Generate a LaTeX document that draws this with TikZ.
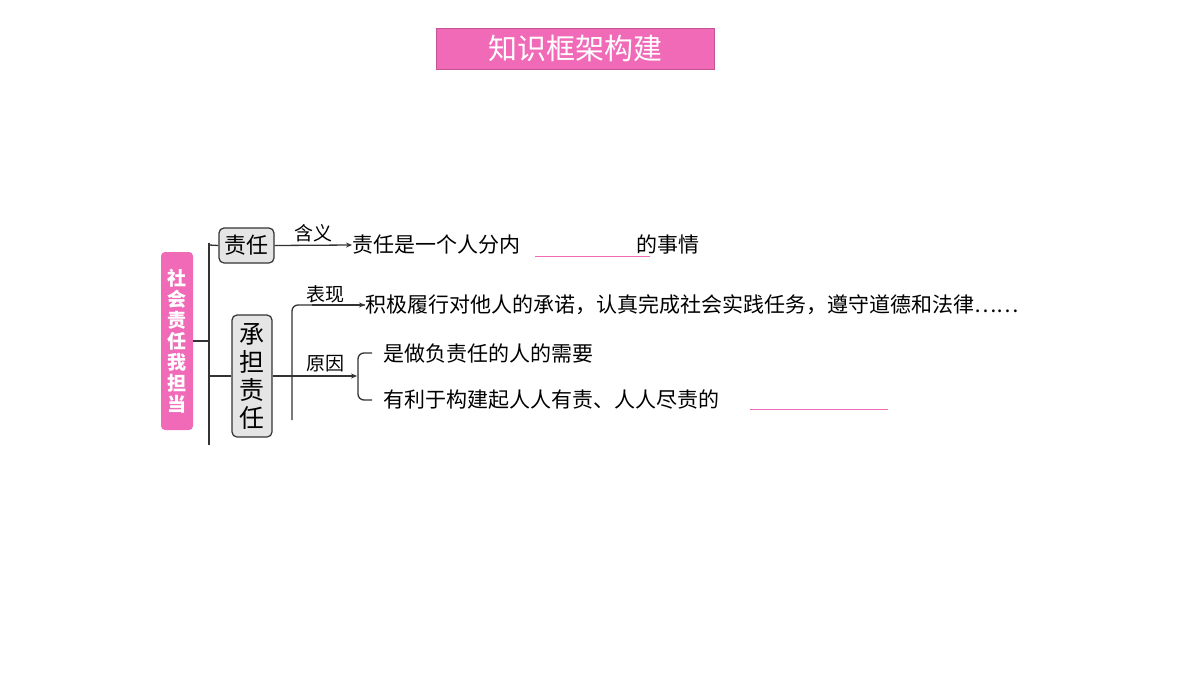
\documentclass[tikz,border=0pt]{standalone}
\usepackage{fontspec}
\setmainfont{Noto Sans CJK SC}
\usetikzlibrary{arrows.meta}
\definecolor{pk}{HTML}{F06AB8}
\begin{document}
\begin{tikzpicture}[x=1pt,y=-1pt,
  ln/.style={line width=1.3pt,draw=black!80},
  ar/.style={ln,-{Stealth[length=6pt,width=5pt]}},
  gb/.style={draw=black!80,line width=1.2pt,fill=black!10,rounded corners=5pt,inner sep=0pt},
  tx/.style={anchor=west,inner sep=0pt,font=\fontsize{21}{24}\selectfont},
  lb/.style={inner sep=0pt,font=\fontsize{19}{22}\selectfont}]
\useasboundingbox (0,0) rectangle (1200,675);
\node[fill=pk,draw=pk!80!black,minimum width=278pt,minimum height=41pt,text=white,font=\fontsize{29}{32}\selectfont] (title) at (575,48.5) {知识框架构建};
\node[fill=pk,rounded corners=4pt,minimum width=32pt,minimum height=178pt,text=white,font=\bfseries\fontsize{19}{21}\selectfont,align=center,inner sep=0pt] (root) at (177,341) {社\\会\\责\\任\\我\\担\\当};
\coordinate (vt) at (209,243); \coordinate (vb) at (209,445);
\draw[ln] (vt) -- (vb);
\draw[ln] (root.east) -- (209,341);
\node[gb,minimum width=55pt,minimum height=35pt,font=\fontsize{22}{24}\selectfont] (zr) at (246.5,245.5) {责任};
\node[gb,minimum width=40pt,minimum height=122pt,align=center,font=\fontsize{25}{28}\selectfont] (cd) at (252,376) {承\\担\\责\\任};
\draw[ln] (209,245) -- (zr.west);
\draw[ln] (209,376) -- (cd.west);
\node[tx] (t1) at (352,245) {责任是一个人分内\hspace{116pt}的事情};
\draw[pk,line width=1pt] (535,256) -- (650,256);
\draw[ar] (zr.east) -- (t1.west) node[lb,midway,above=3pt] (hy) {含义};
\node[tx] (t2) at (365,305) {积极履行对他人的承诺，认真完成社会实践任务，遵守道德和法律……};
\node[tx] (t3) at (383,353) {是做负责任的人的需要};
\node[tx] (t4) at (383,400) {有利于构建起人人有责、人人尽责的};
\draw[pk,line width=1pt] (750,409) -- (888,409);
\coordinate (b) at (292,420);
\draw[ln] (cd.east) -- (292,376);
\draw[ln,rounded corners=6pt] (b) -- (292,305) -- (t2.west);
\draw[ar] (292,305) ++(20,0) -- (t2.west);
\node[lb] (bx) at (325,294) {表现};
\coordinate (br) at (357,376);
\draw[ar] (292,376) -- (br);
\node[lb] (yy) at (325,364) {原因};
\draw[ln,rounded corners=6pt] (t3.west) ++(-11,0) -- (358,353) -- (358,400) -- ([xshift=-11pt]t4.west);
\end{tikzpicture}
\end{document}
